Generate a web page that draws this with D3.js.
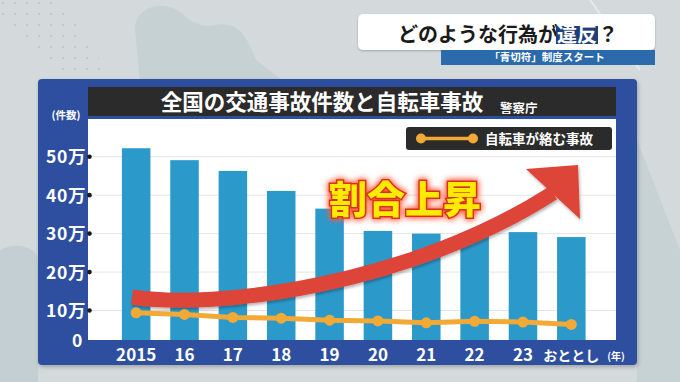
<!DOCTYPE html>
<html><head><meta charset="utf-8">
<script src="https://cdn.jsdelivr.net/npm/d3@7"></script>
<style>
html,body{margin:0;padding:0;background:#d3d9da;}
svg{display:block;}
text{font-family:"Noto Sans CJK JP","Noto Sans",sans-serif;}
</style></head>
<body><svg id="c" width="680" height="382"></svg>
<script>
// ---- data ----
const categories = ["2015","16","17","18","19","20","21","22","23","おととし"];
const totalAccidents = [522000, 491000, 463000, 411000, 365000, 307000, 300000, 300000, 304000, 291000];
const bicycleAccidents = [94000, 90000, 82000, 80000, 75000, 73000, 68000, 72000, 70000, 64000];
const yTicks = [0, 100000, 200000, 300000, 400000, 500000];
const chartTitle = "全国の交通事故件数と自転車事故";
const sourceLabel = "警察庁";
const yUnitLabel = "(件数)";
const xUnitLabel = "(年)";
const legendLabel = "自転車が絡む事故";
const annotation = "割合上昇";
const headerPre = "どのような行為が";
const headerHi = "違反";
const headerPost = "？";
const headerSub = "「青切符」制度スタート";

const svg = d3.select("#c");
const defs = svg.append("defs");

// ---- background ----
svg.append("rect").attr("width",680).attr("height",382).attr("fill","#d4dadb");
const bg = svg.append("g");
bg.append("path").attr("d","M135,30 C135,5 165,0 180,12 C192,22 200,28 215,25 C240,20 248,40 256,60 L285,82 L140,82 Z").attr("fill","#c6d1d3");
bg.append("path").attr("d","M0,250 C20,240 38,250 38,260 L38,382 L0,382 Z").attr("fill","#c3cfd2");
bg.append("path").attr("d","M637,140 L680,250 L680,382 L637,382 Z").attr("fill","#c6d2d4");
bg.append("path").attr("d","M590,0 L640,70").attr("stroke","#e4e9ea").attr("stroke-width",2).attr("fill","none");
// dot pattern
const dotPat = defs.append("pattern").attr("id","dots").attr("width",12).attr("height",11).attr("patternUnits","userSpaceOnUse");
dotPat.append("circle").attr("cx",3).attr("cy",3).attr("r",1).attr("fill","#b9c2c5");
bg.append("path").attr("d","M0,0 L60,0 L110,75 L60,75 L0,20 Z").attr("fill","url(#dots)");

// ---- header ----
const hf = defs.append("filter").attr("id","hsh").attr("x","-10%").attr("y","-20%").attr("width","120%").attr("height","150%");
hf.append("feDropShadow").attr("dx",0).attr("dy",1).attr("stdDeviation",1.2).attr("flood-color","#000").attr("flood-opacity",0.25);
svg.append("rect").attr("x",358).attr("y",14).attr("width",297).attr("height",36).attr("rx",5).attr("fill","#fff").attr("filter","url(#hsh)");
svg.append("rect").attr("x",441).attr("y",50).attr("width",214).attr("height",15).attr("fill","#2b6aab");
svg.append("text").attr("x",398).attr("y",42).attr("font-size",20).attr("font-weight",700).attr("fill","#1a1a1a").text(headerPre);
svg.append("rect").attr("x",556).attr("y",26).attr("width",42).attr("height",18).attr("fill","#1f3f7a");
svg.append("text").attr("x",557).attr("y",42).attr("font-size",20).attr("font-weight",700).attr("fill","#fff").text(headerHi);
svg.append("text").attr("x",598).attr("y",42).attr("font-size",20).attr("font-weight",700).attr("fill","#1a1a1a").text(headerPost);
svg.append("text").attr("x",547).attr("y",61).attr("text-anchor","middle").attr("font-size",10.5).attr("font-weight",700).attr("fill","#fff").text(headerSub);

// ---- panel ----
const ps = defs.append("filter").attr("id","psh").attr("x","-5%").attr("y","-5%").attr("width","110%").attr("height","110%");
ps.append("feDropShadow").attr("dx",1).attr("dy",2).attr("stdDeviation",2).attr("flood-color","#000").attr("flood-opacity",0.25);
svg.append("rect").attr("x",38).attr("y",79).attr("width",599).attr("height",286).attr("rx",4).attr("fill","#2f4fa0").attr("filter","url(#psh)");
svg.append("rect").attr("x",88).attr("y",87).attr("width",528).attr("height",29).attr("fill","#2b2b2b");
svg.append("text").attr("x",322).attr("y",110).attr("text-anchor","middle").attr("font-size",21.5).attr("font-weight",700).attr("fill","#fff").text(chartTitle);
svg.append("text").attr("x",500).attr("y",113).attr("font-size",12.5).attr("font-weight",700).attr("fill","#fff").text(sourceLabel);
svg.append("text").attr("x",66).attr("y",119).attr("text-anchor","middle").attr("font-size",10.5).attr("font-weight",700).attr("fill","#fff").text(yUnitLabel);

// plot area
const plot = {left:88, right:616, top:119, bottom:340};
svg.append("rect").attr("x",plot.left).attr("y",plot.top).attr("width",plot.right-plot.left).attr("height",plot.bottom-plot.top).attr("fill","#fff");

const x = d3.scaleBand().domain(categories).range([112, 595.5]).paddingInner(0.41).paddingOuter(0.205);
const y = d3.scaleLinear().domain([0, 500000]).range([349, 156.7]);

// grid
const g = svg.append("g");
g.selectAll("line.grid").data(yTicks.filter(d=>d>0)).join("line")
  .attr("x1",plot.left).attr("x2",plot.right)
  .attr("y1",d=>y(d)).attr("y2",d=>y(d))
  .attr("stroke","#e4e4e4").attr("stroke-width",1);

// bars
g.selectAll("rect.bar").data(totalAccidents).join("rect")
  .attr("x",(d,i)=>x(categories[i]))
  .attr("y",d=>y(d))
  .attr("width",x.bandwidth())
  .attr("height",d=>plot.bottom-y(d))
  .attr("fill","#2b9acb");

// y axis labels
const yAxis = svg.append("g");
yAxis.selectAll("text").data(yTicks).join("text")
  .attr("x",d=>d===0?83:86).attr("y",d=>Math.min(y(d),plot.bottom)+6.5)
  .attr("text-anchor","end").attr("font-size",17.5).attr("font-weight",700).attr("fill","#fff")
  .attr("letter-spacing",0.6)
  .text(d=>d===0?"0":(d/10000)+"万");
yAxis.selectAll("circle").data(yTicks.filter(d=>d>0)).join("circle")
  .attr("cx",plot.left+1.5).attr("cy",d=>y(d)).attr("r",2.3).attr("fill","#1a1a1a");

// x axis labels
svg.append("g").selectAll("text").data(categories).join("text")
  .attr("x",d=>x(d)+x.bandwidth()/2).attr("y",361)
  .attr("text-anchor","middle").attr("font-size",d=>isNaN(+d)?14:17).attr("font-weight",700).attr("fill","#fff")
  .text(d=>d);
svg.append("text").attr("x",616).attr("y",360).attr("text-anchor","middle").attr("font-size",10).attr("font-weight",700).attr("fill","#fff").text(xUnitLabel);

// red arrow
const as = defs.append("filter").attr("id","ash").attr("x","-10%").attr("y","-20%").attr("width","120%").attr("height","140%");
as.append("feDropShadow").attr("dx",1).attr("dy",2).attr("stdDeviation",1.5).attr("flood-color","#000").attr("flood-opacity",0.3);
const ag = svg.append("g").attr("filter","url(#ash)");
ag.append("path").attr("d","M132,297 C215,310 410,285 553,193").attr("fill","none").attr("stroke","#dc4439").attr("stroke-width",15);
ag.append("path").attr("d","M526,169 L578,165 L580,219 Z").attr("fill","#dc4439");

// bicycle line
const line = d3.line().x((d,i)=>x(categories[i])+x.bandwidth()/2).y(d=>y(d));
svg.append("path").datum(bicycleAccidents).attr("d",line).attr("fill","none").attr("stroke","#f2a935").attr("stroke-width",5);
svg.append("g").selectAll("circle").data(bicycleAccidents).join("circle")
  .attr("cx",(d,i)=>x(categories[i])+x.bandwidth()/2).attr("cy",d=>y(d)).attr("r",5.5).attr("fill","#f2a935");

// annotation text
const gl = defs.append("filter").attr("id","glow").attr("x","-20%").attr("y","-40%").attr("width","140%").attr("height","180%");
gl.append("feGaussianBlur").attr("in","SourceAlpha").attr("stdDeviation",3).attr("result","b");
gl.append("feFlood").attr("flood-color","#ff5a3c").attr("flood-opacity",0.9);
gl.append("feComposite").attr("in2","b").attr("operator","in").attr("result","gb");
const fm = gl.append("feMerge");
fm.append("feMergeNode").attr("in","gb");
fm.append("feMergeNode").attr("in","gb");
fm.append("feMergeNode").attr("in","SourceGraphic");
svg.append("text").attr("x",405).attr("y",213).attr("text-anchor","middle").attr("font-size",38).attr("font-weight",900)
  .attr("fill","#ffeb00").attr("stroke","#d8321f").attr("stroke-width",3).attr("paint-order","stroke")
  .attr("filter","url(#glow)").text(annotation);

// legend
svg.append("rect").attr("x",406).attr("y",127).attr("width",206).attr("height",23).attr("rx",3).attr("fill","#2b2b2b");
svg.append("line").attr("x1",421).attr("x2",473).attr("y1",138.5).attr("y2",138.5).attr("stroke","#f2a935").attr("stroke-width",3.5);
svg.append("circle").attr("cx",421).attr("cy",138.5).attr("r",5).attr("fill","#f2a935");
svg.append("circle").attr("cx",473).attr("cy",138.5).attr("r",5).attr("fill","#f2a935");
svg.append("text").attr("x",485).attr("y",144).attr("font-size",13.5).attr("font-weight",700).attr("fill","#fff").text(legendLabel);
</script></body></html>
